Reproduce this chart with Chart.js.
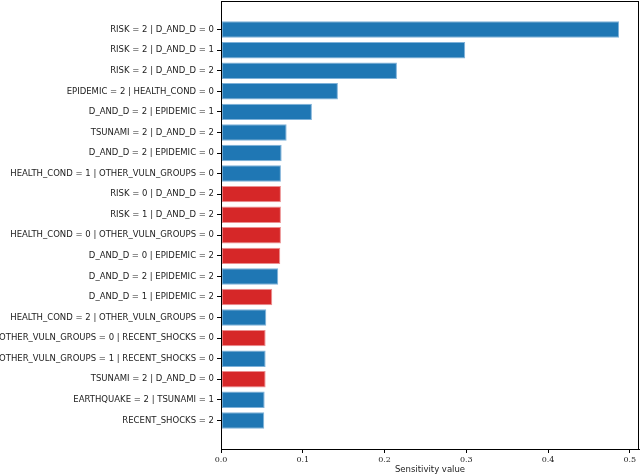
<!DOCTYPE html>
<html>
<head>
<meta charset="utf-8">
<script src="https://cdn.jsdelivr.net/npm/chart.js@4"></script>
<style>
html,body{margin:0;padding:0;background:#fff;}
#wrap{width:640px;height:475px;position:relative;}
</style>
</head>
<body>
<div id="wrap"><canvas id="c"></canvas></div>
<script>
const categories = [
  "RISK = 2 | D_AND_D = 0",
  "RISK = 2 | D_AND_D = 1",
  "RISK = 2 | D_AND_D = 2",
  "EPIDEMIC = 2 | HEALTH_COND = 0",
  "D_AND_D = 2 | EPIDEMIC = 1",
  "TSUNAMI = 2 | D_AND_D = 2",
  "D_AND_D = 2 | EPIDEMIC = 0",
  "HEALTH_COND = 1 | OTHER_VULN_GROUPS = 0",
  "RISK = 0 | D_AND_D = 2",
  "RISK = 1 | D_AND_D = 2",
  "HEALTH_COND = 0 | OTHER_VULN_GROUPS = 0",
  "D_AND_D = 0 | EPIDEMIC = 2",
  "D_AND_D = 2 | EPIDEMIC = 2",
  "D_AND_D = 1 | EPIDEMIC = 2",
  "HEALTH_COND = 2 | OTHER_VULN_GROUPS = 0",
  "OTHER_VULN_GROUPS = 0 | RECENT_SHOCKS = 0",
  "OTHER_VULN_GROUPS = 1 | RECENT_SHOCKS = 0",
  "TSUNAMI = 2 | D_AND_D = 0",
  "EARTHQUAKE = 2 | TSUNAMI = 1",
  "RECENT_SHOCKS = 2"
];
const sensitivity = [
  0.4869, 0.2987, 0.2152, 0.1430, 0.1112, 0.0803, 0.0742, 0.0733, 0.0733, 0.0733,
  0.0733, 0.0725, 0.0700, 0.0627, 0.0554, 0.0546, 0.0546, 0.0546, 0.0534, 0.0529
];
// effect direction: "pos" drawn blue, "neg" drawn red
const direction = [
  "pos","pos","pos","pos","pos","pos","pos","pos","neg","neg",
  "neg","neg","pos","neg","pos","neg","pos","neg","pos","pos"
];
const xTickValues = [0.0, 0.1, 0.2, 0.3, 0.4, 0.5];

const BLUE = "#1f77b4", RED = "#d62728";
const BLUE_EDGE = "#7fb2d9", RED_EDGE = "#ec8f90";

const frame = {
  id: "frame",
  afterDraw(chart) {
    const a = chart.chartArea, ctx = chart.ctx;
    ctx.save();
    ctx.strokeStyle = "#000";
    ctx.lineWidth = 1;
    ctx.strokeRect(a.left + 0.5, a.top + 0.5, a.right - a.left - 1, a.bottom - a.top);
    ctx.restore();
  }
};

new Chart(document.getElementById("c"), {
  type: "bar",
  data: {
    datasets: [{
      data: sensitivity.map((v, i) => ({ x: v, y: i })),
      backgroundColor: direction.map(d => d === "pos" ? BLUE : RED),
      borderColor: direction.map(d => d === "pos" ? BLUE_EDGE : RED_EDGE),
      borderWidth: 1,
      borderSkipped: false,
      barPercentage: 0.8,
      categoryPercentage: 1.0
    }]
  },
  options: {
    indexAxis: "y",
    responsive: true,
    maintainAspectRatio: false,
    animation: false,
    layout: { padding: { top: 1, right: 1, left: 0, bottom: 0 } },
    plugins: { legend: { display: false }, tooltip: { enabled: false } },
    scales: {
      x: {
        type: "linear",
        min: 0,
        max: 0.5113,
        offset: false,
        afterBuildTicks: s => { s.ticks = xTickValues.map(v => ({ value: v })); },
        afterFit: s => { s.height = 26; s.paddingLeft = 0; s.paddingRight = 0; },
        grid: { display: true, offset: false, drawOnChartArea: false, drawTicks: true, tickLength: 4, color: "#000" },
        border: { display: true, color: "#000", width: 1 },
        ticks: {
          callback: v => Number(v).toFixed(1),
          color: "#222",
          padding: 2,
          maxRotation: 0,
          font: { family: "'DejaVu Serif', 'Liberation Serif', serif", size: 8 }
        },
        title: {
          display: true,
          text: "Sensitivity value",
          color: "#222",
          padding: { top: 0, bottom: 0 },
          font: { family: "'DejaVu Sans', sans-serif", size: 8.5 }
        }
      },
      y: {
        type: "linear",
        reverse: true,
        min: -1.39,
        max: 20.39,
        offset: false,
        afterBuildTicks: s => { s.ticks = categories.map((_, i) => ({ value: i })); },
        afterFit: s => { s.width = 221; s.paddingTop = 0; s.paddingBottom = 0; },
        grid: { display: true, offset: false, drawOnChartArea: false, drawTicks: true, tickLength: 4, color: "#000" },
        border: { display: true, color: "#000", width: 1 },
        ticks: {
          autoSkip: false,
          callback: v => categories[v],
          color: "#222",
          padding: 3,
          font: { family: "'DejaVu Sans', sans-serif", size: 8.5 }
        }
      }
    }
  },
  plugins: [frame]
});
</script>
</body>
</html>
